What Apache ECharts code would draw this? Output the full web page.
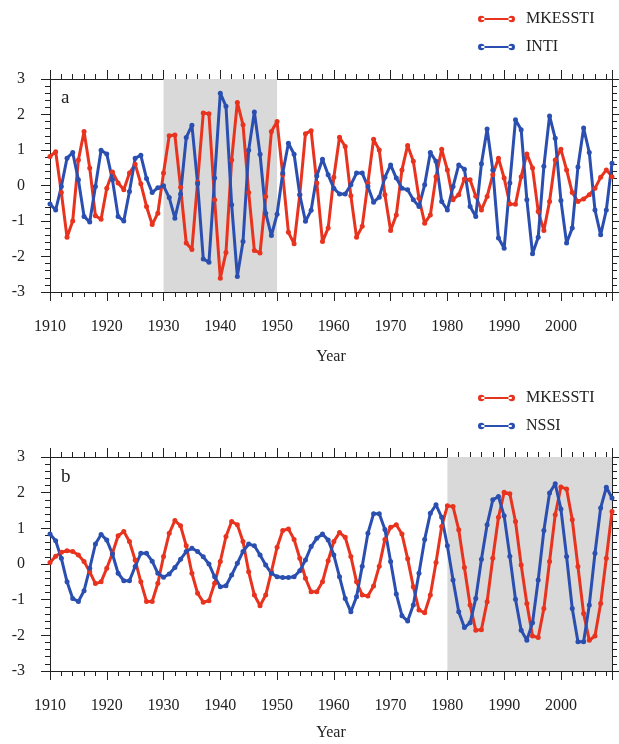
<!DOCTYPE html>
<html>
<head>
<meta charset="utf-8">
<script src="https://cdn.jsdelivr.net/npm/echarts@6/dist/echarts.min.js"></script>
<style>
  html, body { margin: 0; padding: 0; background: #fff; }
  #chart { width: 619px; height: 744px; }
</style>
</head>
<body>
<div id="chart"></div>
<script>
// years 1910-2009
var startYear = 1910;
var mkesstiA = [0.82, 0.95, -0.2, -1.46, -1.0, 0.72, 1.52, 0.49, -0.85, -0.95,
  -0.08, 0.38, 0.07, -0.12, 0.35, 0.6, 0.05, -0.59, -1.1, -0.78,
  0.35, 1.4, 1.42, -0.05, -1.62, -1.8, 0.1, 2.04, 2.02, -0.4,
  -2.61, -1.89, 0.72, 2.34, 1.71, -0.2, -1.83, -1.9, -0.31, 1.52,
  1.8, 0.3, -1.32, -1.64, -0.26, 1.46, 1.54, 0.07, -1.58, -1.2,
  0.23, 1.36, 1.1, -0.29, -1.46, -1.15, 0.07, 1.3, 1.0, -0.26,
  -1.27, -0.83, 0.44, 1.13, 0.68, -0.36, -1.06, -0.83, 0.25, 1.02,
  0.44, -0.4, -0.26, 0.18, 0.16, -0.3, -0.69, -0.31, 0.3, 0.77,
  0.21, -0.52, -0.53, 0.25, 0.89, 0.49, -0.73, -1.27, -0.45, 0.72,
  1.02, 0.44, -0.2, -0.45, -0.38, -0.26, -0.08, 0.23, 0.44, 0.25];
var inti = [-0.52, -0.69, -0.03, 0.77, 0.93, 0.16, -0.87, -1.03, -0.03, 0.99,
  0.89, 0.16, -0.87, -1.0, -0.17, 0.77, 0.85, 0.2, -0.2, -0.06,
  -0.01, -0.34, -0.92, -0.24, 1.35, 1.7, 0.05, -2.07, -2.16, 0.21,
  2.6, 2.23, -0.54, -2.56, -1.58, 0.99, 2.07, 0.88, -0.78, -1.41,
  -0.81, 0.35, 1.19, 0.88, -0.26, -1.01, -0.7, 0.27, 0.74, 0.3,
  -0.08, -0.24, -0.24, 0.02, 0.35, 0.35, -0.03, -0.47, -0.33, 0.23,
  0.58, 0.21, -0.08, -0.12, -0.4, -0.59, 0.02, 0.93, 0.68, -0.45,
  -0.69, -0.03, 0.58, 0.46, -0.59, -0.87, 0.61, 1.59, 0.44, -1.48,
  -1.77, 0.07, 1.85, 1.57, -0.4, -1.92, -1.46, 0.54, 1.96, 1.33,
  -0.42, -1.62, -1.2, 0.52, 1.62, 0.93, -0.69, -1.39, -0.69, 0.63];
var mkesstiB = [0.04, 0.22, 0.33, 0.37, 0.35, 0.25, 0.07, -0.22, -0.55, -0.5,
  -0.12, 0.3, 0.79, 0.91, 0.63, 0.11, -0.5, -1.05, -1.05, -0.54,
  0.21, 0.86, 1.22, 1.07, 0.51, -0.26, -0.82, -1.07, -1.03, -0.54,
  0.07, 0.77, 1.19, 1.1, 0.63, -0.22, -0.87, -1.17, -0.87, -0.22,
  0.47, 0.94, 0.98, 0.69, 0.16, -0.4, -0.78, -0.78, -0.5, 0.09,
  0.63, 0.88, 0.75, 0.21, -0.5, -0.87, -0.9, -0.62, -0.06, 0.69,
  1.03, 1.1, 0.84, 0.15, -0.64, -1.29, -1.37, -0.87, 0.04, 1.05,
  1.63, 1.61, 0.96, -0.1, -1.15, -1.86, -1.84, -1.06, 0.16, 1.31,
  2.01, 1.97, 1.19, -0.03, -1.11, -2.02, -2.06, -1.25, 0.07, 1.38,
  2.16, 2.1, 1.24, -0.07, -1.39, -2.14, -2.02, -1.11, 0.16, 1.47];
var nssi = [0.84, 0.65, 0.16, -0.5, -0.97, -1.05, -0.75, -0.12, 0.56, 0.83,
  0.67, 0.28, -0.26, -0.47, -0.47, -0.07, 0.3, 0.3, 0.08, -0.26,
  -0.37, -0.28, -0.1, 0.13, 0.35, 0.44, 0.35, 0.2, 0.0, -0.36,
  -0.64, -0.61, -0.31, 0.02, 0.35, 0.56, 0.51, 0.25, -0.03, -0.26,
  -0.36, -0.38, -0.38, -0.36, -0.19, 0.11, 0.49, 0.72, 0.84, 0.67,
  0.25, -0.36, -0.97, -1.34, -0.92, -0.06, 0.86, 1.41, 1.41, 0.97,
  0.07, -0.84, -1.45, -1.6, -1.15, -0.26, 0.69, 1.42, 1.66, 1.31,
  0.51, -0.45, -1.34, -1.78, -1.65, -0.97, 0.13, 1.1, 1.8, 1.89,
  1.35, 0.22, -0.99, -1.86, -2.14, -1.65, -0.45, 0.94, 1.99, 2.25,
  1.54, 0.21, -1.25, -2.18, -2.18, -1.15, 0.3, 1.57, 2.15, 1.85];
var shadeA = [1930, 1950];
var shadeB = [1980, 2009];

var years = mkesstiA.map(function(v, i) { return startYear + i; });
function pairs(arr) { return arr.map(function(v, i) { return [years[i], v]; }); }

var red = '#e8331f';
var blue = '#2a4fb0';
var ink = '#222';
var font = 'Liberation Serif';
var legendIcon = 'path://M1,4a3,3 0 1,0 6,0a3,3 0 1,0 -6,0Z M29,4a3,3 0 1,0 6,0a3,3 0 1,0 -6,0Z M4,3H32V5H4Z';

function xAxes(gridIndex, nameGap) {
  var base = {
    gridIndex: gridIndex, type: 'value', min: 1910, max: 2009, interval: 10,
    axisLine: { show: true, onZero: false, lineStyle: { color: ink, width: 1 } },
    axisTick: { show: true, inside: false, length: 9, lineStyle: { color: ink } },
    minorTick: { show: true, splitNumber: 5, length: 5, lineStyle: { color: ink } },
    splitLine: { show: false }
  };
  var bottom = Object.assign({}, base, {
    position: 'bottom',
    name: 'Year', nameLocation: 'middle', nameGap: nameGap,
    nameTextStyle: { fontFamily: font, fontSize: 16, color: ink },
    axisLabel: {
      show: true, showMaxLabel: false, margin: 27, fontFamily: font, fontSize: 16, color: ink,
      formatter: function(v) { return String(v); }
    }
  });
  var top = Object.assign({}, base, { position: 'top', axisLabel: { show: false } });
  return [bottom, top];
}
function yAxes(gridIndex) {
  var base = {
    gridIndex: gridIndex, type: 'value', min: -3, max: 3, interval: 1,
    axisLine: { show: true, onZero: false, lineStyle: { color: ink, width: 1 } },
    axisTick: { show: true, inside: false, length: 9, lineStyle: { color: ink } },
    minorTick: { show: true, splitNumber: 5, length: 5, lineStyle: { color: ink } },
    splitLine: { show: false }
  };
  var left = Object.assign({}, base, {
    position: 'left',
    axisLabel: { show: true, margin: 25, fontFamily: font, fontSize: 16, color: ink }
  });
  var right = Object.assign({}, base, { position: 'right', axisLabel: { show: false } });
  return [left, right];
}
function lineSeries(name, color, data, xi, yi, shade) {
  var s = {
    name: name, type: 'line', xAxisIndex: xi, yAxisIndex: yi,
    data: pairs(data),
    symbol: 'circle', symbolSize: 5, showSymbol: true,
    lineStyle: { color: color, width: 3 },
    itemStyle: { color: color },
    animation: false
  };
  if (shade) {
    s.markArea = {
      silent: true,
      itemStyle: { color: '#d9d9d9' },
      data: [[{ xAxis: shade[0] }, { xAxis: shade[1] }]]
    };
  }
  return s;
}

var option = {
  backgroundColor: '#fff',
  animation: false,
  grid: [
    { left: 50, right: 7, top: 79, height: 213 },
    { left: 50, right: 7, top: 457, height: 214 }
  ],
  legend: [
    {
      orient: 'vertical', left: 473, top: 6, itemGap: 12,
      itemWidth: 37, itemHeight: 8, icon: legendIcon,
      textStyle: { fontFamily: font, fontSize: 16, color: ink, padding: [0, 0, 0, 6] },
      data: ['MKESSTI', 'INTI']
    },
    {
      orient: 'vertical', left: 473, top: 385, itemGap: 12,
      itemWidth: 37, itemHeight: 8, icon: legendIcon,
      textStyle: { fontFamily: font, fontSize: 16, color: ink, padding: [0, 0, 0, 6] },
      data: ['MKESSTI', 'NSSI']
    }
  ],
  xAxis: xAxes(0, 57).concat(xAxes(1, 54)),
  yAxis: yAxes(0).concat(yAxes(1)),
  graphic: [
    { type: 'text', left: 61, top: 89, style: { text: 'a', fontFamily: font, fontSize: 19, fill: ink } },
    { type: 'text', left: 61, top: 468, style: { text: 'b', fontFamily: font, fontSize: 19, fill: ink } }
  ],
  series: [
    lineSeries('MKESSTI', red, mkesstiA, 0, 0, shadeA),
    lineSeries('INTI', blue, inti, 0, 0),
    lineSeries('MKESSTI', red, mkesstiB, 2, 2, shadeB),
    lineSeries('NSSI', blue, nssi, 2, 2)
  ]
};

var myChart = echarts.init(document.getElementById('chart'));
myChart.setOption(option);
</script>
</body>
</html>
